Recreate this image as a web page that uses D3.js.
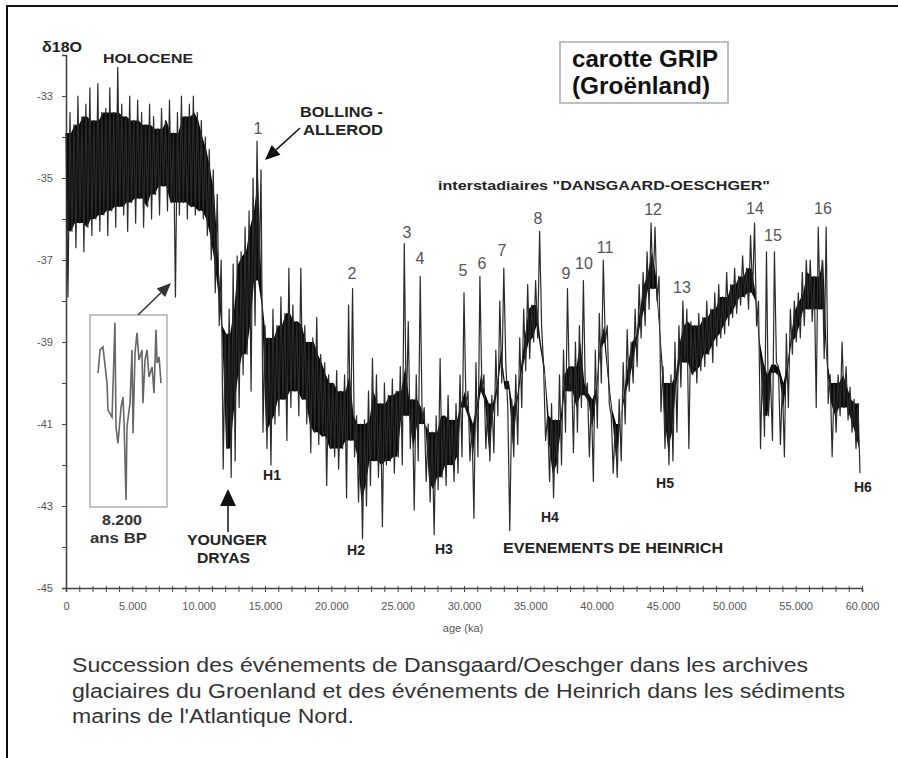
<!DOCTYPE html>
<html>
<head>
<meta charset="utf-8">
<script src="https://cdn.jsdelivr.net/npm/d3@7"></script>
<style>
  body { margin: 0; background: #fff; }
  svg text { font-family: "Liberation Sans", Arial, sans-serif; }
</style>
</head>
<body>
<svg width="898" height="758"></svg>
<script>
// GRIP d18O record, read off the figure as an envelope per 300-year bin
// (hi = warmest excursion, lo = coldest excursion in the bin)
var binStep = 300;

var hiVals = [
  -33.9,-33.4,-33.7,-33.0,-33.5,-33.2,-32.8,-33.6,-32.7,-33.4,
  -33.3,-32.8,-33.4,-32.3,-33.2,-33.5,-33.0,-33.6,-33.1,-33.4,
  -33.7,-33.2,-33.5,-33.8,-33.3,-33.6,-33.1,-33.9,-33.4,-33.0,
  -33.5,-33.2,-33.0,-33.4,-33.6,-34.0,-34.3,-34.8,-35.4,-37.0,
  -38.8,-38.2,-37.1,-36.9,-36.8,-36.2,-35.8,-35.0,-34.1,-34.8,
  -38.6,-38.9,-38.2,-38.6,-37.9,-38.3,-37.2,-38.1,-38.5,-37.2,
  -38.6,-39.0,-38.9,-38.4,-39.3,-39.5,-39.8,-40.0,-39.7,-40.2,
  -39.8,-38.1,-37.7,-40.8,-41.0,-40.9,-40.2,-39.4,-39.8,-40.5,
  -40.0,-40.3,-39.9,-40.2,-39.6,-36.6,-38.5,-40.4,-39.8,-37.4,
  -40.6,-41.0,-41.2,-40.8,-39.4,-40.8,-40.3,-40.9,-40.5,-39.8,
  -37.8,-40.2,-41.0,-39.5,-37.4,-39.8,-40.5,-40.3,-39.2,-38.0,
  -37.2,-40.6,-40.4,-39.8,-38.9,-38.2,-37.6,-38.1,-37.5,-36.3,
  -39.6,-40.8,-40.5,-40.9,-39.8,-39.2,-37.7,-39.6,-39.0,-38.6,
  -37.5,-40.0,-40.4,-39.2,-38.3,-37.0,-38.6,-40.8,-41.0,-40.4,
  -39.5,-38.7,-39.0,-38.2,-37.6,-37.3,-36.8,-36.1,-36.2,-37.4,
  -39.6,-40.0,-39.8,-39.0,-38.6,-38.0,-38.2,-38.5,-38.6,-38.3,
  -38.4,-38.0,-38.2,-37.8,-37.6,-37.9,-37.3,-37.6,-37.2,-37.4,
  -36.9,-37.2,-36.4,-36.1,-38.0,-39.5,-36.8,-39.8,-36.8,-39.6,
  -40.0,-38.8,-38.2,-38.0,-37.8,-37.3,-37.0,-37.0,-37.4,-36.2,
  -37.0,-36.2,-39.8,-40.0,-39.8,-39.0,-39.6,-40.1,-40.4,-40.5
];

var loVals = [
  -37.9,-36.3,-36.7,-36.1,-36.8,-36.2,-36.4,-36.0,-36.3,-35.9,
  -36.4,-35.8,-36.2,-35.7,-35.9,-36.3,-35.6,-36.1,-35.5,-36.2,
  -35.7,-36.0,-35.4,-35.9,-35.2,-35.8,-35.6,-37.9,-35.9,-35.6,
  -36.0,-35.7,-35.9,-35.8,-36.0,-36.4,-37.0,-37.8,-38.6,-42.1,
  -41.6,-42.3,-41.9,-40.6,-39.8,-39.3,-40.2,-38.6,-37.5,-41.2,
  -41.6,-42.0,-41.0,-40.8,-40.4,-41.4,-40.6,-40.2,-40.8,-40.4,
  -41.0,-41.7,-41.2,-41.5,-41.3,-42.5,-41.6,-41.8,-42.1,-41.6,
  -42.8,-41.4,-41.8,-42.9,-43.8,-43.0,-42.5,-41.9,-42.3,-43.5,
  -42.0,-41.9,-42.2,-41.8,-42.0,-40.8,-41.6,-43.1,-41.9,-41.0,
  -42.4,-42.9,-43.7,-42.6,-42.3,-42.5,-42.0,-42.4,-42.2,-41.8,
  -40.6,-41.9,-43.3,-41.8,-40.2,-41.6,-41.9,-41.7,-40.8,-40.0,
  -39.5,-43.6,-41.8,-41.5,-40.6,-39.7,-39.4,-39.0,-38.9,-38.6,
  -41.4,-42.4,-42.8,-42.2,-42.0,-41.2,-40.2,-41.7,-41.2,-40.6,
  -40.3,-41.8,-42.4,-41.1,-40.0,-39.0,-40.5,-42.2,-42.3,-41.9,
  -41.0,-40.2,-40.0,-39.6,-38.9,-38.6,-38.2,-37.7,-38.0,-40.7,
  -41.6,-42.0,-41.9,-41.2,-40.1,-39.5,-41.6,-39.8,-40.0,-39.7,
  -39.6,-39.3,-39.5,-39.1,-38.9,-38.8,-38.6,-38.4,-38.3,-38.1,
  -37.9,-38.2,-37.8,-38.6,-41.6,-41.3,-40.8,-41.4,-39.5,-41.5,
  -41.8,-40.6,-39.3,-39.0,-38.9,-38.6,-38.2,-38.5,-40.6,-38.2,
  -39.4,-40.5,-41.8,-41.2,-40.8,-40.6,-40.9,-41.2,-41.6,-42.2
];

// inset: the 8.200 BP event, years BP and d18O
var insetAges = [7958,7973,7995,8026,8033,8064,8086,8094,8109,8132,8147,8155,8170,8177,8200,
                 8215,8223,8238,8253,8268,8291,8298,8314,8329,8344,8367,8382,8397,8405,8420,8435];
var insetVals = [-35.33,-34.80,-34.73,-35.56,-36.18,-36.34,-34.18,-36.57,-36.94,-36.11,-35.88,-36.48,-38.24,-36.57,-36.02,
                 -34.80,-36.71,-34.87,-34.41,-35.03,-34.80,-36.02,-35.03,-34.80,-35.42,-35.19,-35.79,-34.34,-35.10,-34.96,-35.56];

// Dansgaard-Oeschger interstadials: number, age of label, level of label
var doNames  = ["1","2","3","4","5","6","7","8","9","10","11","12","13","14","15","16"];
var doAges   = [14470,21560,25700,26680,29920,31360,32860,35580,37690,39040,40630,44250,46430,51930,53290,57060];
var doLevels = [-33.93,-37.46,-36.46,-37.10,-37.39,-37.22,-36.90,-36.12,-37.46,-37.22,-36.83,-35.90,-37.80,-35.88,-36.54,-35.88];

// Heinrich events
var hNames  = ["H1","H2","H3","H4","H5","H6"];
var hAges   = [15530,21860,28490,36480,45150,60070];
var hLevels = [-42.37,-44.20,-44.17,-43.39,-42.56,-42.66];

var xTickLabels = [0,5000,10000,15000,20000,25000,30000,35000,40000,45000,50000,55000,60000];
var yTickLabels = [-45,-43,-41,-39,-37,-35,-33];

var captionLines = [
  "Succession des événements de Dansgaard/Oeschger dans les archives",
  "glaciaires du Groenland et des événements de Heinrich dans les sédiments",
  "marins de l'Atlantique Nord."
];

var svg = d3.select("svg");

var x = d3.scaleLinear().domain([0, 60000]).range([66, 862]);
var y = d3.scaleLinear().domain([-45, -32]).range([588, 55]);

// frame (top and left edge of the scanned page)
svg.append("line").attr("x1", 6).attr("x2", 898).attr("y1", 6).attr("y2", 6)
  .style("stroke", "#111").style("stroke-width", 2);
svg.append("line").attr("x1", 7).attr("x2", 7).attr("y1", 5).attr("y2", 758)
  .style("stroke", "#111").style("stroke-width", 2);

// ---- axes
var xMinor = d3.axisBottom(x).tickValues(d3.range(0, 60001, 1000)).tickSize(4).tickFormat("");
var gx = svg.append("g").attr("transform", "translate(0,588)").call(xMinor);
gx.select(".domain").style("stroke", "#444").style("stroke-width", 1.6);
gx.selectAll(".tick line").style("stroke", "#444").attr("y1", -2);

var xLab = d3.axisBottom(x).tickValues(xTickLabels).tickSize(0).tickPadding(14)
  .tickFormat(function(d) { return d3.format(",")(d).replace(/,/g, "."); });
var gxl = svg.append("g").attr("transform", "translate(0,588)").call(xLab);
gxl.select(".domain").remove();
gxl.selectAll("text").style("font-size", "11px").style("fill", "#555")
  .style("font-family", "'Liberation Sans', Arial, sans-serif");

var yAxis = d3.axisLeft(y).tickValues(d3.range(-45, -31.5, 1)).tickSize(4).tickPadding(9)
  .tickFormat(function(d) { return yTickLabels.indexOf(d) >= 0 ? String(d) : ""; });
var gy = svg.append("g").attr("transform", "translate(66,0)").call(yAxis);
gy.select(".domain").style("stroke", "#444").style("stroke-width", 1.6);
gy.selectAll(".tick line").style("stroke", "#444");
gy.selectAll("text").style("font-size", "11px").style("fill", "#555")
  .style("font-family", "'Liberation Sans', Arial, sans-serif");

svg.append("text").attr("x", 463).attr("y", 632).attr("text-anchor", "middle")
  .style("font-size", "11px").style("fill", "#555").text("age (ka)");

// ---- the record
// dense core: where neighbouring bins overlap the trace is solid black
var core = hiVals.map(function(h, i) {
  var top = d3.min([hiVals[i - 1], h, hiVals[i + 1]].filter(function(v) { return v !== undefined; }));
  var bot = d3.max([loVals[i - 1], loVals[i], loVals[i + 1]].filter(function(v) { return v !== undefined; }));
  if (top < bot) { var m = (top + bot) / 2; top = m + 0.1; bot = m - 0.1; }
  return { age: i * binStep + binStep / 4, top: top, bot: bot };
});
svg.append("path").datum(core)
  .attr("d", d3.area()
    .x(function(d) { return x(d.age); })
    .y0(function(d) { return y(d.bot); })
    .y1(function(d) { return y(d.top); }))
  .style("fill", "#0a0a0a");

var pts = [];
hiVals.forEach(function(h, i) {
  pts.push([i * binStep, h]);
  pts.push([i * binStep + binStep / 2, loVals[i]]);
});
var line = d3.line().x(function(d) { return x(d[0]); }).y(function(d) { return y(d[1]); });
svg.append("path").datum(pts).attr("d", line)
  .style("fill", "none").style("stroke", "#2a2a2a").style("stroke-width", 1.2)
  .style("stroke-linejoin", "round");

// ---- annotations
function label(px, py, str, size, bold, len, fill) {
  var t = svg.append("text").attr("x", px).attr("y", py)
    .style("font-size", size + "px").style("font-weight", bold ? "bold" : "normal")
    .style("fill", fill || "#222").text(str);
  if (len) t.attr("textLength", len).attr("lengthAdjust", "spacingAndGlyphs");
  return t;
}

function arrow(x1, y1, x2, y2, headLen, headW, col) {
  var dx = x2 - x1, dy = y2 - y1, L = Math.sqrt(dx * dx + dy * dy);
  var ux = dx / L, uy = dy / L;
  var bx = x2 - ux * headLen, by = y2 - uy * headLen;
  svg.append("line").attr("x1", x1).attr("y1", y1).attr("x2", bx).attr("y2", by)
    .style("stroke", col).style("stroke-width", 1.5);
  svg.append("path")
    .attr("d", "M" + x2 + "," + y2 + "L" + (bx - uy * headW / 2) + "," + (by + ux * headW / 2) +
               "L" + (bx + uy * headW / 2) + "," + (by - ux * headW / 2) + "Z")
    .style("fill", col);
}

label(42, 52, "\u03b418O", 14, true, 40, "#222");
label(103, 63, "HOLOCENE", 13, true, 90);

label(300, 117, "BOLLING -", 14, true, 83);
label(303, 135, "ALLEROD", 14, true, 80);
arrow(300, 128, 265, 160, 15, 13, "#111");

label(438, 190, "interstadiaires \"DANSGAARD-OESCHGER\"", 13, true, 332);
label(503, 553, "EVENEMENTS DE HEINRICH", 14, true, 220);

label(187, 545, "YOUNGER", 14, true, 80);
label(197, 563, "DRYAS", 14, true, 53);
arrow(228, 532, 228, 489, 17, 16, "#111");

// title box
svg.append("rect").attr("x", 560).attr("y", 42).attr("width", 168).attr("height", 61)
  .style("fill", "none").style("stroke", "#aaa").style("stroke-width", 1.5);
label(572, 67, "carotte GRIP", 24, true, 146, "#111");
label(572, 94, "(Groënland)", 24, true, 138, "#111");

// numbered interstadials
svg.selectAll(".do").data(doNames).enter().append("text")
  .attr("class", "do")
  .attr("x", function(d, i) { return x(doAges[i]); })
  .attr("y", function(d, i) { return y(doLevels[i]); })
  .attr("text-anchor", "middle")
  .style("font-size", "16px").style("fill", "#555")
  .text(function(d) { return d; });

// Heinrich labels
svg.selectAll(".hh").data(hNames).enter().append("text")
  .attr("class", "hh")
  .attr("x", function(d, i) { return x(hAges[i]); })
  .attr("y", function(d, i) { return y(hLevels[i]); })
  .attr("text-anchor", "middle")
  .style("font-size", "14px").style("font-weight", "bold").style("fill", "#222")
  .text(function(d) { return d; });

// inset 8.200 ans BP
svg.append("rect").attr("x", 90).attr("y", 315).attr("width", 77).attr("height", 192)
  .style("fill", "#fff").style("stroke", "#999").style("stroke-width", 1.2);
var ix = d3.scaleLinear().domain([7950, 8450]).range([97, 163]);
var iy = d3.scaleLinear().domain([-34, -38.4]).range([315, 507]);
svg.append("path").datum(insetAges)
  .attr("d", d3.line().x(function(d) { return ix(d); }).y(function(d, i) { return iy(insetVals[i]); }))
  .style("fill", "none").style("stroke", "#666").style("stroke-width", 1.6);
arrow(138, 315, 171, 283, 14, 12, "#333");
label(102, 525, "8.200", 14, true, 40, "#333");
label(90, 543, "ans BP", 14, true, 57, "#333");

// caption
var capLens = [736, 773, 282];
svg.selectAll(".cap").data(captionLines).enter().append("text")
  .attr("class", "cap")
  .attr("x", 72)
  .attr("y", function(d, i) { return 672 + i * 25.5; })
  .attr("textLength", function(d, i) { return capLens[i]; })
  .attr("lengthAdjust", "spacingAndGlyphs")
  .style("font-size", "20px").style("fill", "#333")
  .text(function(d) { return d; });
</script>
</body>
</html>
